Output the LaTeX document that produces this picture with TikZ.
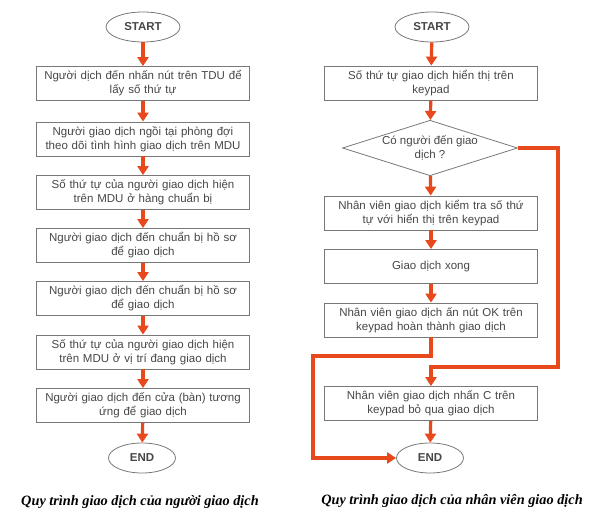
\documentclass[tikz,border=0pt]{standalone}
\usepackage{fontspec}
\setmainfont{Liberation Sans}
\newfontfamily\capfont{Liberation Serif}
\usetikzlibrary{shapes.geometric,arrows.meta}
\definecolor{flowred}{RGB}{231,72,28}
\definecolor{boxgray}{RGB}{120,120,120}
\definecolor{textgray}{RGB}{70,70,70}
\begin{document}
\begin{tikzpicture}[x=1pt,y=-1pt, every node/.style={font=\fontsize{11.5}{14}\selectfont, text=textgray},
	stepbox/.style={rectangle, draw=boxgray, line width=0.8pt, minimum width=213pt, minimum height=34pt, text width=210pt, align=center, inner sep=0pt},
	terminal/.style={ellipse, draw=boxgray, line width=0.8pt, minimum width=74pt, minimum height=30pt, inner sep=0pt, font=\fontsize{11.5}{14}\selectfont\bfseries},
	decision/.style={diamond, draw=boxgray, line width=0.8pt, minimum width=175pt, minimum height=55pt, aspect=3.1, inner sep=0pt, align=center},
	flow/.style={draw=flowred, line width=3.2pt, -{Triangle[width=11pt,length=9pt]}},
	caption/.style={font=\capfont\fontsize{14.3}{17}\selectfont\bfseries\itshape, text=black}]

		\useasboundingbox (0,0) rectangle (600,529);

		% left flow
		\node[terminal] (ls) at (143,27) {START};
		\node[stepbox] (l1) at (143,83.5) {Người dịch đến nhấn nút trên TDU để\\lấy số thứ tự};
		\node[stepbox] (l2) at (143,139) {Người giao dịch ngồi tại phòng đợi\\theo dõi tình hình giao dịch trên MDU};
		\node[stepbox] (l3) at (143,192.5) {Số thứ tự của người giao dịch hiện\\trên MDU ở hàng chuẩn bị};
		\node[stepbox] (l4) at (143,245.5) {Người giao dịch đến chuẩn bị hồ sơ\\để giao dịch};
		\node[stepbox] (l5) at (143,298.5) {Người giao dịch đến chuẩn bị hồ sơ\\để giao dịch};
		\node[stepbox] (l6) at (143,352) {Số thứ tự của người giao dịch hiện\\trên MDU ở vị trí đang giao dịch};
		\node[stepbox] (l7) at (143,405.5) {Người giao dịch đến cửa (bàn) tương\\ứng để giao dịch};
		\node[terminal, minimum width=67pt] (le) at (142,458) {END};
		\draw[flow] (ls) -- (l1);
		\draw[flow] (l1) -- (l2);
		\draw[flow] (l2) -- (l3);
		\draw[flow] (l3) -- (l4);
		\draw[flow] (l4) -- (l5);
		\draw[flow] (l5) -- (l6);
		\draw[flow] (l6) -- (l7);
		\draw[flow] (l7) -- (le);
		\node[caption] (lcap) at (140,502) {Quy trình giao dịch của người giao dịch};

		% right flow
		\node[terminal] (rs) at (432,27) {START};
		\node[stepbox] (r1) at (431,83) {Số thứ tự giao dịch hiển thị trên\\keypad};
		\node[decision] (rd) at (430,148) {Có người đến giao\\dịch ?};
		\node[stepbox] (r2) at (431,213) {Nhân viên giao dịch kiểm tra số thứ\\tự với hiển thị trên keypad};
		\node[stepbox] (r3) at (431,266.5) {Giao dịch xong};
		\node[stepbox] (r4) at (431,320) {Nhân viên giao dịch ấn nút OK trên\\keypad hoàn thành giao dịch};
		\node[stepbox] (r5) at (431,403.5) {Nhân viên giao dịch nhấn C trên\\keypad bỏ qua giao dịch};
		\node[terminal, minimum width=67pt] (re) at (430,458) {END};
		\coordinate (rturn) at (558,367);
		\coordinate (lturn) at (313,356);
		\draw[flow] (rs) -- (r1);
		\draw[flow] (r1) -- (rd);
		\draw[flow] (rd) -- (r2);
		\draw[flow] (r2) -- (r3);
		\draw[flow] (r3) -- (r4);
		\draw[flow] (r5) -- (re);
		\draw[flow] (rd.east) -| (rturn) -| (r5);
		\draw[flow] (r4) |- (lturn) |- (re);
		\node[caption] (rcap) at (452,501) {Quy trình giao dịch của nhân viên giao dịch};
	\end{tikzpicture}
\end{document}
